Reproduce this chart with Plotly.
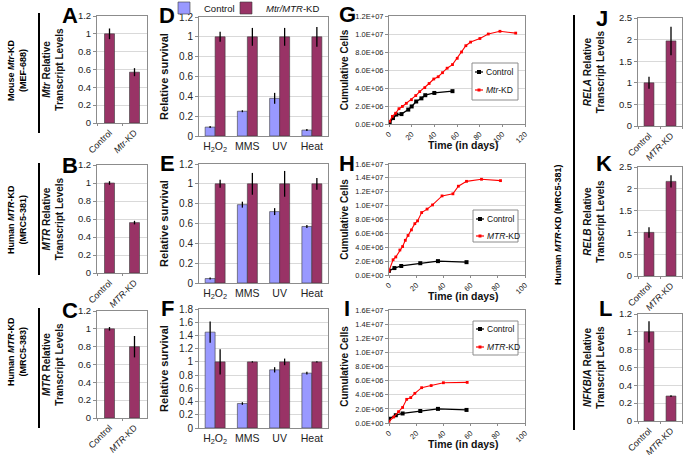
import plotly.graph_objects as go

W, H = 686, 455
MAROON = '#993366'
BLUE = '#9999FF'
FONT = 'Liberation Sans, Arial, sans-serif'

# ---------------- data ----------------
cats_mouse = ["Control", "<i>Mtr</i>-KD"]
cats_human = ["Control", "<i>MTR</i>-KD"]

A_vals = [1.0, 0.57]; A_err = [0.06, 0.045]
B_vals = [1.0, 0.56]; B_err = [0.02, 0.02]
C_vals = [1.0, 0.80]; C_err = [0.02, 0.12]
J_vals = [1.0, 1.97]; J_err = [0.14, 0.33]
K_vals = [1.0, 2.17]; K_err = [0.12, 0.14]
L_vals = [1.0, 0.28]; L_err = [0.12, 0.01]

stress = ["H<sub>2</sub>O<sub>2</sub>", "MMS", "UV", "Heat"]
D_ctrl = [0.09, 0.25, 0.38, 0.06]; D_ctrl_err = [0.01, 0.01, 0.055, 0.01]
D_kd = [1.0, 1.0, 1.0, 1.0];       D_kd_err = [0.05, 0.09, 0.09, 0.10]
E_ctrl = [0.045, 0.79, 0.72, 0.57]; E_ctrl_err = [0.01, 0.03, 0.035, 0.015]
E_kd = [1.0, 1.0, 1.0, 1.0];        E_kd_err = [0.04, 0.11, 0.13, 0.06]
F_ctrl = [1.45, 0.37, 0.88, 0.83];  F_ctrl_err = [0.16, 0.02, 0.04, 0.02]
F_kd = [1.0, 1.0, 1.0, 1.0];        F_kd_err = [0.19, 0.01, 0.05, 0.01]

G_ctrl_days = [0.6, 3.5, 6.5, 11, 17, 20, 24, 28.6, 32, 40, 56]
G_ctrl_cells = [0.2e6, 0.66e6, 1.05e6, 1.1e6, 1.6e6, 1.95e6, 2.5e6, 2.85e6, 3.2e6, 3.45e6, 3.65e6]
G_kd_days = [0.6, 3, 5.9, 8.8, 11.8, 15.3, 19.8, 23.6, 27.1, 31.6, 35.4, 39.5, 43.4,
             47.2, 51.3, 56, 60.2, 64, 67.8, 72, 80.2, 87.6, 97.9, 111.8]
G_kd_cells = [0.3e6, 0.85e6, 1.2e6, 1.7e6, 1.95e6, 2.3e6, 2.7e6, 3.16e6, 3.6e6, 4.04e6,
              4.5e6, 5.0e6, 5.25e6, 5.7e6, 6.2e6, 6.6e6, 7.3e6, 8.0e6, 8.7e6, 9.1e6,
              9.5e6, 10.0e6, 10.3e6, 10.1e6]

H_ctrl_days = [0, 4, 9, 23, 36, 57]
H_ctrl_cells = [0.6e6, 1.0e6, 1.3e6, 1.7e6, 2.0e6, 1.85e6]
H_kd_days = [0, 3, 5, 8, 10, 12, 14, 16.5, 19, 21, 24, 28, 32, 39, 47, 51, 57, 68, 82]
H_kd_cells = [0.6e6, 2.2e6, 2.6e6, 3.6e6, 4.1e6, 5.0e6, 5.7e6, 6.5e6, 7.4e6, 7.8e6,
              9.0e6, 9.5e6, 10.1e6, 11.4e6, 11.7e6, 12.8e6, 13.5e6, 13.8e6, 13.6e6]

I_ctrl_days = [0, 5, 10, 23, 36, 57]
I_ctrl_cells = [0.6e6, 1.1e6, 1.35e6, 1.7e6, 2.0e6, 1.85e6]
I_kd_days = [0, 3.5, 7, 10, 13, 16, 19, 24, 31, 40, 57.5]
I_kd_cells = [0.25e6, 0.85e6, 1.6e6, 2.2e6, 3.35e6, 3.6e6, 4.2e6, 5.0e6, 5.3e6, 5.7e6, 5.75e6]

G_ytickvals = [0, 2e6, 4e6, 6e6, 8e6, 10e6, 12e6]
G_yticktext = ["0.0E+00", "2.0E+06", "4.0E+06", "6.0E+06", "8.0E+06", "1.0E+07", "1.2E+07"]
HI_ytickvals = [0, 2e6, 4e6, 6e6, 8e6, 10e6, 12e6, 14e6, 16e6]
HI_yticktext = ["0.0E+00", "2.0E+06", "4.0E+06", "6.0E+06", "8.0E+06", "1.0E+07",
                "1.2E+07", "1.4E+07", "1.6E+07"]

# ---------------- layout helpers ----------------
def dx(x0, x1):
    return [x0 / W, x1 / W]

def dy(y0, y1):
    return [1 - y1 / H, 1 - y0 / H]

def px(x):
    return x / W

def py(y):
    return 1 - y / H

fig = go.Figure()
layout = {}
annotations = []
shapes = []

GRID = '#d9d9d9'
LINE = '#8c8c8c'
TICKF = dict(family=FONT, size=9.5, color='#222')

def yaxis_style(rng, dtick, title, tsize=10, tickfont=None, standoff=12):
    return dict(range=rng, dtick=dtick, showgrid=True, gridcolor=GRID, gridwidth=1,
                showline=True, linecolor=LINE, linewidth=1, mirror=True, automargin=False,
                ticks='outside', ticklen=3, tickcolor=LINE,
                tickfont=tickfont or TICKF, zeroline=False,
                title=dict(text=title, font=dict(family=FONT, size=tsize, color='#111'), standoff=standoff))

def cat_xaxis(tickangle, tickfont=None):
    return dict(showgrid=False, showline=True, linecolor=LINE, linewidth=1, mirror=True,
                ticks='outside', ticklen=2, tickcolor=LINE, tickson='boundaries', automargin=False,
                tickangle=tickangle, tickfont=tickfont or dict(family=FONT, size=9, color='#222'),
                zeroline=False)

err_style = lambda arr: dict(type='data', array=arr, visible=True, color='black', thickness=1.3, width=0)
bar_line = dict(color='#3a3a3a', width=0.6)

def small_bar_panel(n, xd, yd, cats, vals, errs, ymax, dtick, ytitle, gap):
    fig.add_trace(go.Bar(x=cats, y=vals, error_y=err_style(errs), marker=dict(color=MAROON, line=bar_line),
                         xaxis=f'x{n}', yaxis=f'y{n}', showlegend=False, width=1 - gap))
    layout[f'xaxis{n}'] = dict(cat_xaxis(-45), domain=dx(*xd), anchor=f'y{n}')
    layout[f'yaxis{n}'] = dict(yaxis_style([0, ymax], dtick, ytitle, 10, None, 12),
                               domain=dy(*yd), anchor=f'x{n}')

def survival_panel(n, yd, ctrl, ctrl_err, kd, kd_err, ymax, show):
    fig.add_trace(go.Bar(x=stress, y=ctrl, error_y=err_style(ctrl_err), name='Control',
                         marker=dict(color=BLUE, line=bar_line), xaxis=f'x{n}', yaxis=f'y{n}',
                         showlegend=show, legend='legend'))
    fig.add_trace(go.Bar(x=stress, y=kd, error_y=err_style(kd_err), name='<i>Mtr/MTR</i>-KD',
                         marker=dict(color=MAROON, line=bar_line), xaxis=f'x{n}', yaxis=f'y{n}',
                         showlegend=show, legend='legend5'))
    xa = cat_xaxis(0, dict(family=FONT, size=10.5, color='#222'))
    xa['ticks'] = ''
    layout[f'xaxis{n}'] = dict(xa, domain=dx(199, 328), anchor=f'y{n}')
    layout[f'yaxis{n}'] = dict(yaxis_style([0, ymax], 0.2, '<b>Relative survival</b>', 11,
                                           dict(family=FONT, size=10, color='#222'), 8),
                               domain=dy(*yd), anchor=f'x{n}')

def growth_panel(n, yd, cd, cc, kd, kc, xmax, tv, tt, kdname, box):
    fig.add_trace(go.Scatter(x=cd, y=cc, mode='lines+markers', name='Control',
                             line=dict(color='black', width=1.3),
                             marker=dict(symbol='square', size=4, color='black'),
                             xaxis=f'x{n}', yaxis=f'y{n}', showlegend=False))
    fig.add_trace(go.Scatter(x=kd, y=kc, mode='lines+markers', name=kdname,
                             line=dict(color='#ff0000', width=1.1),
                             marker=dict(symbol='square', size=2.8, color='#ff0000'),
                             xaxis=f'x{n}', yaxis=f'y{n}', showlegend=False))
    tf = dict(family=FONT, size=7.5, color='#222')
    layout[f'xaxis{n}'] = dict(range=[0, xmax], dtick=20, showgrid=False, showline=True,
                               linecolor=LINE, mirror=True, ticks='outside', ticklen=2,
                               tickcolor=LINE, tickangle=-45, automargin=False,
                               tickfont=dict(family=FONT, size=7.5, color='#222'),
                               zeroline=False, domain=dx(389, 525), anchor=f'y{n}')
    layout[f'yaxis{n}'] = dict(yaxis_style([0, tv[-1]], None, '<b>Cumulative Cells</b>', 10, tf, 4),
                               tickvals=tv, ticktext=tt, domain=dy(*yd), anchor=f'x{n}')
    # x-axis title placed like the original (just under rotated tick labels)
    annotations.append(dict(text='<b>Time (in days)</b>', x=px(463), y=py(yd[1] + 21),
                            xref='paper', yref='paper', xanchor='center', yanchor='middle',
                            showarrow=False, font=dict(family=FONT, size=10.5, color='#111')))
    # legend box (Excel-style, drawn compactly)
    x0, y0, x1, y1, ya, yb = box
    shapes.append(dict(type='rect', xref='paper', yref='paper', x0=px(x0), x1=px(x1),
                       y0=py(y1), y1=py(y0), fillcolor='white', line=dict(color='#8c8c8c', width=1),
                       layer='above'))
    for yy, col, ms, name in [(ya, 'black', 4, 'Control'), (yb, '#ff0000', 3, kdname)]:
        shapes.append(dict(type='line', xref='paper', yref='paper', x0=px(x0 + 3), x1=px(x0 + 11),
                           y0=py(yy), y1=py(yy), line=dict(color=col, width=1.2), layer='above'))
        shapes.append(dict(type='rect', xref='paper', yref='paper', x0=px(x0 + 7 - ms / 2),
                           x1=px(x0 + 7 + ms / 2), y0=py(yy + ms / 2), y1=py(yy - ms / 2),
                           fillcolor=col, line=dict(width=0), layer='above'))
        annotations.append(dict(text=name, x=px(x0 + 12), y=py(yy), xref='paper', yref='paper',
                                xanchor='left', yanchor='middle', showarrow=False,
                                font=dict(family=FONT, size=8.5, color='#111')))

# A, B, C
small_bar_panel(1, (97, 147), (16, 123), cats_mouse, A_vals, A_err, 1.2, 0.2,
                '<b><i>Mtr</i> Relative<br>Transcript Levels</b>', 0.6)
small_bar_panel(2, (97, 147), (165, 273), cats_human, B_vals, B_err, 1.2, 0.2,
                '<b><i>MTR</i> Relative<br>Transcript Levels</b>', 0.6)
small_bar_panel(3, (97, 147), (311, 418), cats_human, C_vals, C_err, 1.2, 0.2,
                '<b><i>MTR</i> Relative<br>Transcript Levels</b>', 0.6)
# D, E, F
survival_panel(4, (17, 136), D_ctrl, D_ctrl_err, D_kd, D_kd_err, 1.2, True)
survival_panel(5, (164, 283), E_ctrl, E_ctrl_err, E_kd, E_kd_err, 1.2, False)
survival_panel(6, (309, 428), F_ctrl, F_ctrl_err, F_kd, F_kd_err, 1.8, False)
# G, H, I
growth_panel(7, (16, 124), G_ctrl_days, G_ctrl_cells, G_kd_days, G_kd_cells, 120,
             G_ytickvals, G_yticktext, '<i>Mtr</i>-KD', (472, 63, 518, 100, 72, 90))
growth_panel(8, (164, 275), H_ctrl_days, H_ctrl_cells, H_kd_days, H_kd_cells, 100,
             HI_ytickvals, HI_yticktext, '<i>MTR</i>-KD', (473, 210, 518, 242, 219, 236))
growth_panel(9, (310, 423), I_ctrl_days, I_ctrl_cells, I_kd_days, I_kd_cells, 100,
             HI_ytickvals, HI_yticktext, '<i>MTR</i>-KD', (473, 321, 518, 355, 329, 347))
# J, K, L
small_bar_panel(10, (638, 682), (18, 126), cats_human, J_vals, J_err, 2.5, 0.5,
                '<b><i>RELA</i> Relative<br>Transcript Levels</b>', 0.55)
small_bar_panel(11, (638, 682), (167, 276), cats_human, K_vals, K_err, 2.5, 0.5,
                '<b><i>RELB</i> Relative<br>Transcript Levels</b>', 0.55)
small_bar_panel(12, (638, 682), (314, 421), cats_human, L_vals, L_err, 1.2, 0.2,
                '<b><i>NFKBIA</i> Relative<br>Transcript Levels</b>', 0.55)

leg_common = dict(orientation='h', yanchor='middle', xanchor='left', bgcolor='rgba(0,0,0,0)',
                  font=dict(family=FONT, size=9.5, color='#111'), itemwidth=30, borderwidth=0)
layout['legend'] = dict(leg_common, x=px(164), y=py(8))
layout['legend5'] = dict(leg_common, x=px(226), y=py(8))

# panel letters
letters = [('A', 70, 16), ('B', 70, 165), ('C', 70, 310),
           ('D', 167, 16), ('E', 167, 163), ('F', 167, 308),
           ('G', 347, 14), ('H', 347, 163), ('I', 347, 308),
           ('J', 602, 19), ('K', 604, 163), ('L', 605, 308)]
for t, x, y in letters:
    annotations.append(dict(text=f'<b>{t}</b>', x=px(x), y=py(y), xref='paper', yref='paper',
                            xanchor='center', yanchor='middle', showarrow=False,
                            font=dict(family=FONT, size=22, color='black')))

side_labels = [('<b>Mouse <i>Mtr</i>-KD<br>(MEF-688)</b>', 17, 70),
               ('<b>Human <i>MTR</i>-KD<br>(MRC5-381)</b>', 17, 220),
               ('<b>Human <i>MTR</i>-KD<br>(MRC5-383)</b>', 17, 352),
               ('<b>Human <i>MTR</i>-KD (MRC5-381)</b>', 558, 225)]
for t, x, y in side_labels:
    annotations.append(dict(text=t, x=px(x), y=py(y), xref='paper', yref='paper',
                            xanchor='center', yanchor='middle', showarrow=False, textangle=-90,
                            font=dict(family=FONT, size=9, color='black')))

for x, y0, y1 in [(39, 13, 133), (39, 163, 275), (39, 308, 428), (574, 15, 430)]:
    shapes.append(dict(type='line', xref='paper', yref='paper', x0=px(x), x1=px(x),
                       y0=py(y0), y1=py(y1), line=dict(color='black', width=2)))

fig.update_layout(**layout)
fig.update_layout(width=W, height=H, margin=dict(l=0, r=0, t=0, b=0, autoexpand=False),
                  paper_bgcolor='white', plot_bgcolor='white', template='none',
                  barmode='group', bargap=0.38, bargroupgap=0,
                  annotations=annotations, shapes=shapes,
                  font=dict(family=FONT))

fig.write_html("out.html", config={'displayModeBar': False},
               post_script="document.body.style.margin='0px';document.body.style.overflow='hidden';")
